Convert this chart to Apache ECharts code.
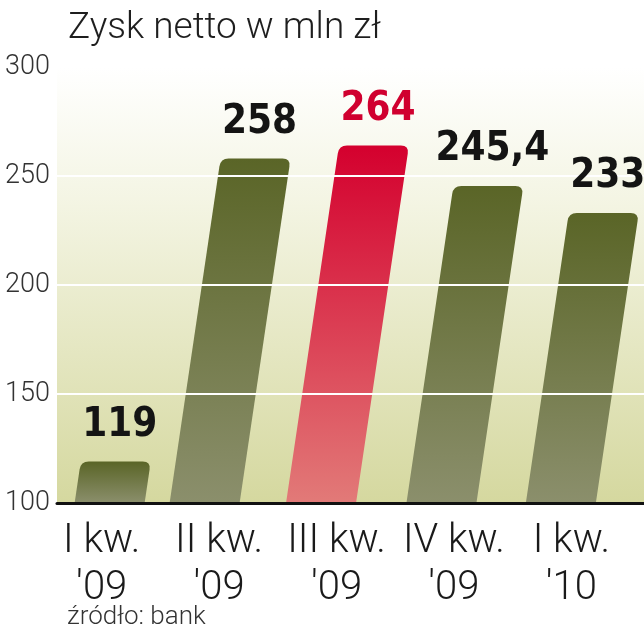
<!DOCTYPE html>
<html>
<head>
<meta charset="utf-8">
<script src="https://cdn.jsdelivr.net/npm/echarts@6/dist/echarts.min.js"></script>
<style>
  html, body { margin: 0; padding: 0; background: #fff; }
  #chart { width: 644px; height: 640px; }
</style>
</head>
<body>
<div id="chart"></div>
<script>
// dane
const categories = ["I kw.\n'09", "II kw.\n'09", "III kw.\n'09", "IV kw.\n'09", "I kw.\n'10"];
const values = [119, 258, 264, 245.4, 233];
const highlighted = [false, false, true, false, false];
const yTicks = { min: 100, max: 300, step: 50 };

const SLANT = 0.148; // przesunięcie w poziomie na piksel wysokości
const HALF_W = 35;
const RADIUS = 8;

const olive = new echarts.graphic.LinearGradient(0, 0, 0, 1, [
  { offset: 0, color: '#5a6527' },
  { offset: 1, color: '#8b8f6c' }
]);
const red = new echarts.graphic.LinearGradient(0, 0, 0, 1, [
  { offset: 0, color: '#d4002e' },
  { offset: 1, color: '#e27a78' }
]);

// geometria skośnego słupka
const barGeom = (api) => {
  const idx = api.value(0);
  const val = api.value(1);
  const bottom = api.coord([idx, yTicks.min]);
  const top = api.coord([idx, val]);
  const yb = bottom[1], yt = top[1];
  const ym = (yb + yt) / 2;
  const cx = bottom[0] - 3;
  const xAt = (y) => cx + SLANT * (ym - y);
  return { idx, val, yb, yt, xAt };
};

const renderBar = (params, api) => {
  const { idx, yb, yt, xAt } = barGeom(api);
  const r = Math.min(RADIUS, (yb - yt) / 2);
  const p = [
    'M', xAt(yb) - HALF_W, yb,
    'L', xAt(yb) + HALF_W, yb,
    'L', xAt(yt + r) + HALF_W, yt + r,
    'Q', xAt(yt) + HALF_W, yt, xAt(yt) + HALF_W - r, yt,
    'L', xAt(yt) - HALF_W + r, yt,
    'Q', xAt(yt) - HALF_W, yt, xAt(yt + r) - HALF_W, yt + r,
    'Z'
  ].join(' ');
  return {
    type: 'path',
    shape: { pathData: p },
    style: { fill: highlighted[idx] ? red : olive }
  };
};

const renderLabel = (params, api) => {
  const { idx, val, yt, xAt } = barGeom(api);
  return {
    type: 'text',
    x: xAt(yt) + 4,
    y: yt - 36,
    style: {
      text: String(val).replace('.', ','),
      fill: highlighted[idx] ? '#d0002f' : '#141414',
      font: 'bold 40px "DejaVu Sans Condensed", "DejaVu Sans"',
      align: 'center',
      verticalAlign: 'middle'
    }
  };
};

const chart = echarts.init(document.getElementById('chart'));

chart.setOption({
  animation: false,
  title: {
    text: 'Zysk netto w mln zł',
    left: 63,
    top: 5,
    textStyle: {
      fontFamily: 'Roboto',
      fontWeight: 300,
      fontSize: 37,
      color: '#1e1e1e'
    }
  },
  grid: {
    left: 57,
    right: 0,
    top: 67,
    bottom: 137,
    show: true,
    borderWidth: 0,
    backgroundColor: new echarts.graphic.LinearGradient(0, 0, 0, 1, [
      { offset: 0, color: '#ffffff' },
      { offset: 0.3, color: '#f4f5e4' },
      { offset: 1, color: '#d5d89f' }
    ])
  },
  xAxis: {
    type: 'category',
    data: categories,
    z: 4,
    axisTick: { show: false },
    axisLine: { lineStyle: { color: '#111', width: 3 } },
    axisLabel: {
      interval: 0,
      margin: 15,
      fontFamily: 'Roboto',
      fontWeight: 300,
      fontSize: 40,
      lineHeight: 47,
      color: '#1a1a1a',
      padding: [0, 28, 0, 0]
    }
  },
  yAxis: {
    type: 'value',
    min: yTicks.min,
    max: yTicks.max,
    interval: yTicks.step,
    z: 3,
    axisLine: { show: false },
    axisTick: { show: false },
    axisLabel: {
      margin: 7,
      fontFamily: 'Roboto',
      fontWeight: 300,
      fontSize: 27,
      color: '#333'
    },
    splitLine: { lineStyle: { color: '#ffffff', width: 2 } }
  },
  graphic: [{
    type: 'text',
    left: 67,
    top: 604,
    style: {
      text: 'źródło: bank',
      font: '300 26px Roboto',
      fill: '#333'
    }
  }],
  series: [
    {
      type: 'custom',
      renderItem: renderBar,
      encode: { x: 0, y: 1 },
      data: values.map((v, i) => [i, v])
    },
    {
      type: 'custom',
      z: 5,
      renderItem: renderLabel,
      encode: { x: 0, y: 1 },
      data: values.map((v, i) => [i, v])
    }
  ]
});
</script>
</body>
</html>
